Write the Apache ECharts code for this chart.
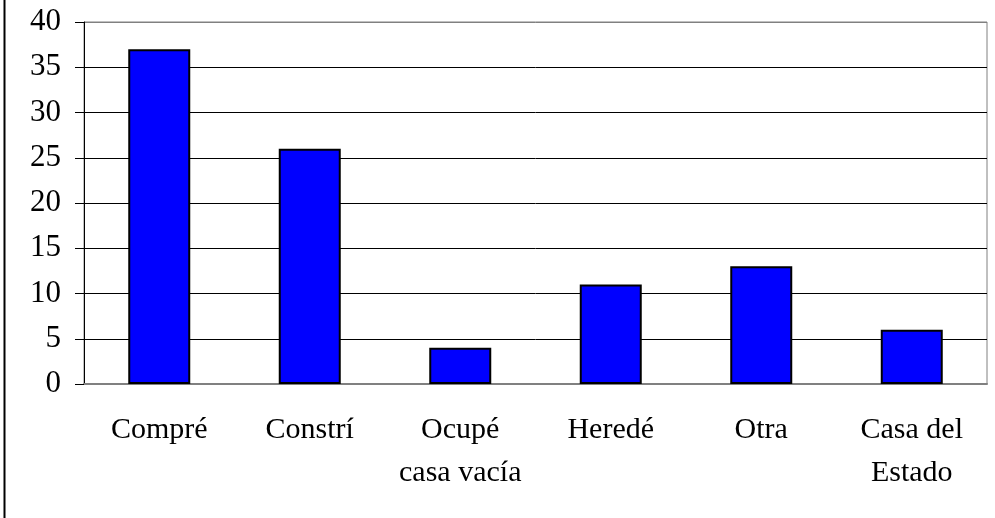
<!DOCTYPE html>
<html>
<head>
<meta charset="utf-8">
<script src="https://cdn.jsdelivr.net/npm/echarts@6/dist/echarts.min.js"></script>
<style>
  html, body { margin: 0; padding: 0; background: #fff; }
  #chart { width: 995px; height: 518px; }
</style>
</head>
<body>
<div id="chart"></div>
<script>
const categories = ['Compré', 'Constrí', 'Ocupé\ncasa vacía', 'Heredé', 'Otra', 'Casa del\nEstado']
const values = [37, 26, 4, 11, 13, 6]
const yTicks = { min: 0, max: 40, interval: 5 }

const font = 'Liberation Serif'

// gridlines black, the top one is part of the grey plot frame
const splitColors = []
for (let v = yTicks.min; v <= yTicks.max; v += yTicks.interval) {
  splitColors.push(v === yTicks.max ? '#808080' : '#000')
}

const myChart = echarts.init(document.getElementById('chart'))

const option = {
  animation: false,
  backgroundColor: '#fff',
  grid: {
    left: 84,
    right: 8,
    top: 22,
    bottom: 134,
    show: true,
    borderColor: '#808080',
    borderWidth: 1
  },
  graphic: [
    {
      type: 'line',
      shape: { x1: 4.5, y1: 0, x2: 4.5, y2: 518 },
      style: { stroke: '#000', lineWidth: 2 }
    }
  ],
  xAxis: {
    type: 'category',
    data: categories,
    axisLine: { lineStyle: { color: '#808080', width: 2 } },
    axisTick: { length: 10, lineStyle: { color: '#000', width: 1 } },
    axisLabel: {
      color: '#000',
      fontFamily: font,
      fontSize: 30,
      lineHeight: 43,
      margin: 25,
      interval: 0
    }
  },
  yAxis: {
    type: 'value',
    min: yTicks.min,
    max: yTicks.max,
    interval: yTicks.interval,
    axisLine: { show: true, lineStyle: { color: '#000', width: 1 } },
    axisTick: { show: true, length: 9, lineStyle: { color: '#000' } },
    axisLabel: {
      color: '#000',
      fontFamily: font,
      fontSize: 31,
      margin: 23
    },
    splitLine: { lineStyle: { color: splitColors, width: 1 } }
  },
  series: [
    {
      type: 'bar',
      data: values,
      barWidth: 62,
      itemStyle: {
        color: '#0000ff',
        borderColor: '#000',
        borderWidth: 2
      }
    }
  ]
}

myChart.setOption(option)
</script>
</body>
</html>
